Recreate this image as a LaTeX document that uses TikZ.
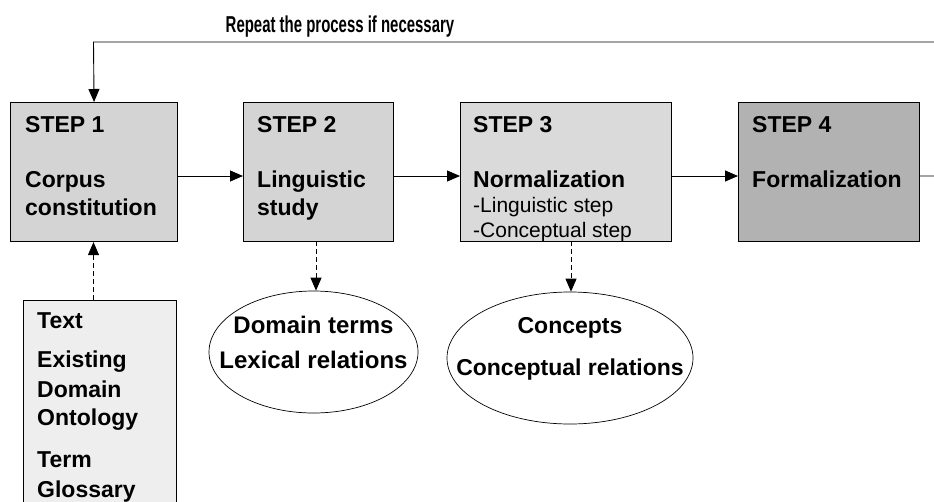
\documentclass[tikz,border=0pt]{standalone}
\usepackage{fontspec}
\setmainfont{Liberation Sans}
\usetikzlibrary{arrows.meta,shapes.geometric}
\definecolor{stepfill}{HTML}{D4D4D4}
\definecolor{stepfillB}{HTML}{DADADA}
\definecolor{stepfillD}{HTML}{B2B2B2}
\definecolor{srcfill}{HTML}{EEEEEE}
\tikzset{
  stepbox/.style={draw=black, line width=1.1pt, fill=stepfill, anchor=north west, inner sep=0pt},
  big/.style={font=\fontsize{23}{27}\selectfont\bfseries, inner sep=0pt, anchor=base west},
  small/.style={font=\fontsize{21}{24}\selectfont, inner sep=0pt, anchor=base west},
  ctext/.style={font=\fontsize{23}{27}\selectfont\bfseries, inner sep=0pt, anchor=base},
  flow/.style={line width=0.9pt, -{Triangle[length=13pt,width=11pt]}},
  dflow/.style={line width=0.9pt, dash pattern=on 5pt off 3pt, -{Triangle[length=13pt,width=11pt]}},
  oval/.style={draw=black, line width=0.7pt, ellipse, inner sep=0pt, fill=white},
}
\begin{document}
\begin{tikzpicture}[x=1pt,y=-1pt]
\useasboundingbox (0,0) rectangle (934,501);
\clip (0,0) rectangle (934,501);
\fill[white] (0,0) rectangle (934,501);

% step boxes
\node[stepbox, minimum width=167pt, minimum height=139pt] (s1) at (10,102) {};
\node[stepbox, minimum width=150pt, minimum height=139pt] (s2) at (243,102) {};
\node[stepbox, fill=stepfillB, minimum width=211pt, minimum height=139pt] (s3) at (460,102) {};
\node[stepbox, fill=stepfillD, minimum width=181pt, minimum height=139pt] (s4) at (738,102) {};

% step texts
\node[big] (s1a) at (25,132) {STEP 1};
\node[big] (s1b) at (25,187) {Corpus};
\node[big] (s1c) at (25,215) {constitution};
\node[big] (s2a) at (257,132) {STEP 2};
\node[big] (s2b) at (257,187) {Linguistic};
\node[big] (s2c) at (257,215) {study};
\node[big] (s3a) at (473,132) {STEP 3};
\node[big] (s3b) at (473,187) {Normalization};
\node[small] (s3c) at (473,212) {-Linguistic step};
\node[small] (s3d) at (473,237) {-Conceptual step};
\node[big] (s4a) at (752,132) {STEP 4};
\node[big] (s4b) at (752,187) {Formalization};

% source box
\node[draw=black, line width=1.1pt, fill=srcfill, anchor=north west, inner sep=0pt,
      minimum width=153pt, minimum height=260pt] (src) at (23,300) {};
\node[big] (t1) at (37,328) {Text};
\node[big] (t2) at (37,367) {Existing};
\node[big] (t3) at (37,397) {Domain};
\node[big] (t4) at (37,425) {Ontology};
\node[big] (t5) at (37,467) {Term};
\node[big] (t6) at (37,497) {Glossary};

% ellipses
\node[oval, minimum width=209pt, minimum height=122pt] (e1) at (313.5,352) {};
\node[ctext, font=\fontsize{24}{27}\selectfont\bfseries] (e1a) at (313.5,333) {Domain terms};
\node[ctext, font=\fontsize{24}{27}\selectfont\bfseries] (e1b) at (313.5,368) {Lexical relations};
\node[oval, minimum width=246pt, minimum height=132pt] (e2) at (570,358) {};
\node[ctext] (e2a) at (570,333) {Concepts};
\node[ctext] (e2b) at (570,375) {Conceptual relations};

% title
\node[inner sep=0pt, anchor=base] (title) at (340,32)
  {\scalebox{0.65}[1]{\fontsize{23}{26}\selectfont\bfseries Repeat the process if necessary}};

% connectors
\coordinate (rr) at (945,176);
\coordinate (rt) at (945,42);
\coordinate (lt) at (93.5,42);
\draw[flow] (s1.east |- 0,176) -- (s2.west |- 0,176);
\draw[flow] (s2.east |- 0,176) -- (s3.west |- 0,176);
\draw[flow] (s3.east |- 0,176) -- (s4.west |- 0,176);
\draw[flow] (s4.east |- 0,176) -- (rr) -- (rt) -- (lt) -- (s1.north);
\draw[dflow] (src.north -| 93.5,0) -- (s1.south -| 93.5,0);
\coordinate (d1) at (316,241);
\coordinate (d2) at (571,241);
\draw[dflow] (d1) -- (e1.north -| d1);
\draw[dflow] (d2) -- (e2.north -| d2);
\end{tikzpicture}
\end{document}
